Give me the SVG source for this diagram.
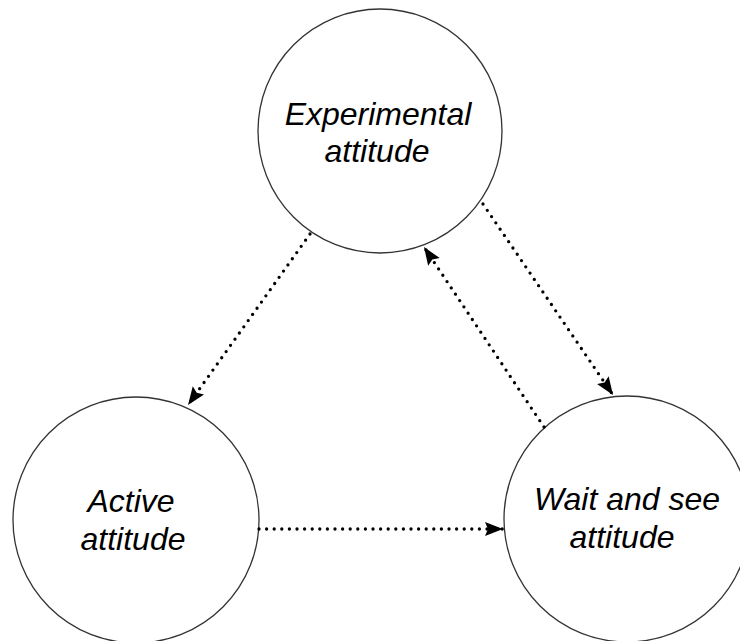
<svg xmlns="http://www.w3.org/2000/svg" width="740" height="641" viewBox="0 0 740 641">
<style>
.node{fill:#fff;stroke:#333;stroke-width:1.3}
.lbl{font-family:"Liberation Sans",Arial,sans-serif;font-style:italic;font-size:32px;fill:#000;text-anchor:middle}
.edge{fill:none;stroke:#000;stroke-width:3.3;stroke-dasharray:0 7.6;stroke-linecap:round}
</style>
<defs>
<marker id="arr" markerUnits="userSpaceOnUse" markerWidth="19" markerHeight="15" refX="18" refY="7" orient="auto">
<path d="M0,0 L18,7 L0,14 L3,7 z" fill="#000"/>
</marker>
</defs>
<rect width="740" height="641" fill="#fff"/>
<g id="experimental">
<circle class="node" cx="380" cy="131" r="122"/>
<text class="lbl" x="378" y="125">Experimental</text>
<text class="lbl" x="377" y="162">attitude</text>
</g>
<g id="active">
<circle class="node" cx="136" cy="520" r="123"/>
<text class="lbl" x="131" y="512">Active</text>
<text class="lbl" x="133" y="550">attitude</text>
</g>
<g id="waitandsee">
<circle class="node" cx="627" cy="519" r="123"/>
<text class="lbl" x="627" y="510">Wait and see</text>
<text class="lbl" x="622" y="548">attitude</text>
</g>
<g id="connectors">
<line class="edge" x1="310" y1="234" x2="188" y2="405" marker-end="url(#arr)"/>
<line class="edge" x1="483" y1="204" x2="613" y2="395" marker-end="url(#arr)"/>
<line class="edge" x1="544" y1="427" x2="424" y2="247" marker-end="url(#arr)"/>
<line class="edge" x1="259" y1="529" x2="503" y2="529" marker-end="url(#arr)"/>
</g>
</svg>
